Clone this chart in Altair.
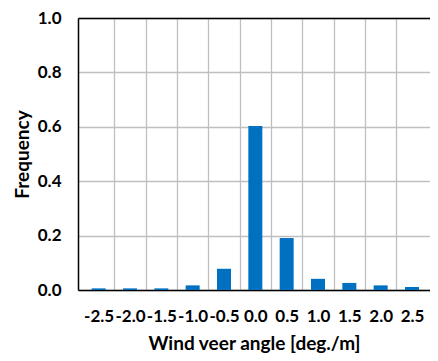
import altair as alt
import pandas as pd

angles = [-2.5, -2.0, -1.5, -1.0, -0.5, 0.0, 0.5, 1.0, 1.5, 2.0, 2.5]
freq = [0.006, 0.006, 0.006, 0.017, 0.078, 0.603, 0.191, 0.041, 0.026, 0.017, 0.011]
y_ticks = [0.0, 0.2, 0.4, 0.6, 0.8, 1.0]
grid_x = [-2.25, -1.75, -1.25, -0.75, -0.25, 0.25, 0.75, 1.25, 1.75, 2.25]

df = pd.DataFrame({"angle": angles, "freq": freq})
FONT = "Lato"
LEFT = 70
PLOT_W = 422 - LEFT
PX_PER_UNIT = 64.5
xscale = alt.Scale(domain=[-2.75, -2.75 + PLOT_W / PX_PER_UNIT], nice=False, zero=False)
lab = "datum.value < 0 ? '-' + format(-datum.value, '.1f') : format(datum.value, '.1f')"

bars = alt.Chart(df).mark_bar(size=14, color="#0070C0").encode(
    x=alt.X("angle:Q", scale=xscale,
            axis=alt.Axis(values=angles, labelExpr=lab, grid=False, ticks=False,
                          domain=True, domainColor="black", domainWidth=1.5,
                          labelPadding=18, labelFontSize=17,
                          labelFontWeight="bold", labelColor="black", labelFont=FONT,
                          title="Wind veer angle [deg./m]", titleFontSize=19,
                          titleFont=FONT, titleFontWeight="bold", titleColor="black",
                          titlePadding=10, labelFlush=False, labelOverlap=False)),
    y=alt.Y("freq:Q", scale=alt.Scale(domain=[0, 1], nice=False),
            axis=alt.Axis(values=y_ticks, format=".1f", grid=True, gridColor="#bfbfbf",
                          gridWidth=1.3, ticks=False, domain=True, domainColor="black",
                          domainWidth=1.5, labelPadding=17,
                          labelFontSize=17, labelFontWeight="bold", labelColor="black",
                          labelFont=FONT, title="Frequency", titleFontSize=19,
                          titleFont=FONT, titleFontWeight="bold", titleColor="black",
                          titlePadding=5, labelFlush=False)),
)

gridlayer = alt.Chart(df).mark_bar(opacity=0).encode(
    x=alt.X("angle:Q", scale=xscale,
            axis=alt.Axis(orient="top", values=grid_x, grid=True, gridColor="#bfbfbf",
                          gridWidth=1.3, labels=False, ticks=False, domain=True,
                          domainColor="black", domainWidth=1.5, title=None)),
    y=alt.Y("freq:Q"),
)

chart = alt.layer(gridlayer, bars).resolve_axis(x="independent").properties(
    width=PLOT_W, height=272,
    autosize=alt.AutoSizeParams(type="none"),
    padding={"left": LEFT, "right": 0, "top": 10, "bottom": 63},
).configure_view(stroke=None)

chart.save("out.html", embed_options={"renderer": "svg", "actions": False})
